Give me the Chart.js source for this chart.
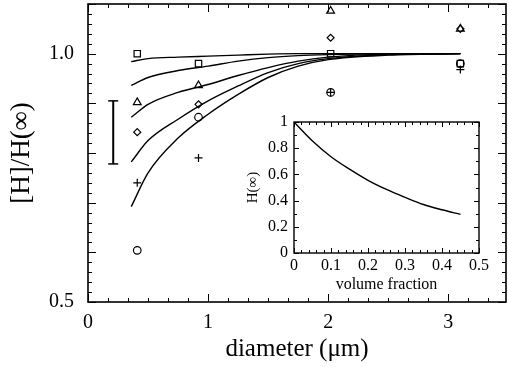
<!DOCTYPE html>
<html>
<head>
<meta charset="utf-8">
<script src="https://cdn.jsdelivr.net/npm/chart.js@4.4.1/dist/chart.umd.min.js"></script>
<style>
  html, body { margin: 0; padding: 0; background: #fff; }
  #wrap { position: relative; width: 508px; height: 367px; }
  #main { position: absolute; left: 0; top: 0; }
  #inset { position: absolute; left: 236px; top: 110px; }
</style>
</head>
<body>
<div id="wrap">
  <canvas id="main" width="508" height="367"></canvas>
  <canvas id="inset" width="256" height="185"></canvas>
</div>
<script>
// model curves, [H]/H(inf) vs diameter
const curveX = [0.36, 0.5, 0.75, 1.0, 1.25, 1.5, 1.75, 2.0, 2.5, 3.1];
const curve1 = [0.984, 0.990, 0.993, 0.995, 0.997, 0.999, 1.0, 1.0, 1.0, 1.0];
const curve2 = [0.936, 0.952, 0.966, 0.975, 0.985, 0.992, 0.996, 0.998, 1.0, 1.0];
const curve3 = [0.872, 0.898, 0.922, 0.938, 0.956, 0.972, 0.985, 0.993, 0.999, 1.0];
const curve4 = [0.782, 0.825, 0.868, 0.905, 0.935, 0.962, 0.980, 0.990, 0.998, 1.0];
const curve5 = [0.692, 0.760, 0.830, 0.878, 0.918, 0.952, 0.975, 0.988, 0.997, 1.0];

// measured points
const markerX = [0.41, 0.92, 2.02, 3.1];
const squareY = [1.0, 0.98, 1.0, 0.98];
const triangleY = [0.902, 0.936, 1.086, 1.05];
const diamondY = [0.842, 0.898, 1.032, 1.05];
const circleY = [0.604, 0.872, 0.922, 0.98];
const plusY = [0.74, 0.79, 0.922, 0.968];

// error bar
const errX = [0.21, 0.21];
const errY = [0.778, 0.905];

const xLabels = [0, 1, 2, 3];
const yLabels = [0.5, 1.0];

// inset: H(inf) vs volume fraction
const fracX = [0, 0.05, 0.1, 0.15, 0.2, 0.25, 0.3, 0.35, 0.4, 0.45];
const hInf = [1.0, 0.855, 0.735, 0.64, 0.555, 0.485, 0.425, 0.37, 0.33, 0.295];
const insetXLabels = [0, 0.1, 0.2, 0.3, 0.4, 0.5];
const insetYLabels = [0, 0.2, 0.4, 0.6, 0.8, 1];

const serif = '"Liberation Serif", "DejaVu Serif", serif';
Chart.defaults.font.family = serif;
Chart.defaults.color = '#000';

function pts(xs, ys) {
  return xs.map((x, i) => ({x: x, y: ys[i]}));
}

function tickList(min, max, step, every) {
  const out = [];
  const n = Math.floor((max - min) / step + 1e-6);
  for (let i = 0; i <= n; i++) {
    out.push({v: min + i * step, major: i % every === 0});
  }
  return out;
}

// inward ticks on all four sides plus the frame
const frameTicks = {
  id: 'frameTicks',
  afterDatasetsDraw(chart, args, opts) {
    const {ctx, chartArea: a, scales} = chart;
    const x = scales.x, y = scales.y;
    ctx.save();
    ctx.strokeStyle = '#000';
    ctx.lineWidth = 1;
    ctx.beginPath();
    opts.xTicks.forEach(t => {
      const p = Math.round(x.getPixelForValue(t.v)) + 0.5;
      const l = t.major ? opts.major : opts.minor;
      ctx.moveTo(p, a.bottom); ctx.lineTo(p, a.bottom - l);
      ctx.moveTo(p, a.top); ctx.lineTo(p, a.top + l);
    });
    opts.yTicks.forEach(t => {
      const p = Math.round(y.getPixelForValue(t.v)) + 0.5;
      const l = t.major ? opts.major : opts.minor;
      ctx.moveTo(a.left, p); ctx.lineTo(a.left + l, p);
      ctx.moveTo(a.right, p); ctx.lineTo(a.right - l, p);
    });
    ctx.stroke();
    ctx.lineWidth = opts.frame;
    ctx.strokeRect(a.left, a.top, a.right - a.left, a.bottom - a.top);
    ctx.restore();
  }
};

function noPad(s) {
  s.paddingTop = 0; s.paddingBottom = 0;
  s.paddingLeft = 0; s.paddingRight = 0;
}

function curveSet(ys) {
  return {
    data: pts(curveX, ys),
    showLine: true,
    borderColor: '#000',
    borderWidth: 1.4,
    pointRadius: 0,
    cubicInterpolationMode: 'monotone'
  };
}

function markerSet(ys, style, r) {
  return {
    data: pts(markerX, ys),
    showLine: false,
    pointStyle: style,
    pointRadius: r,
    pointBorderWidth: 1.2,
    pointBorderColor: '#000',
    pointBackgroundColor: 'rgba(255,255,255,0)'
  };
}

new Chart(document.getElementById('main'), {
  type: 'scatter',
  data: {
    datasets: [
      curveSet(curve1), curveSet(curve2), curveSet(curve3), curveSet(curve4), curveSet(curve5),
      markerSet(squareY, 'rect', 4.5),
      markerSet(triangleY, 'triangle', 4.5),
      markerSet(diamondY, 'rectRot', 3.5),
      markerSet(circleY, 'circle', 3.8),
      markerSet(plusY, 'cross', 4),
      {
        data: pts(errX, errY),
        showLine: true,
        borderColor: '#000',
        borderWidth: 2,
        pointStyle: 'line',
        pointRadius: 5,
        pointBorderWidth: 1.5,
        pointBorderColor: '#000'
      }
    ]
  },
  options: {
    responsive: false,
    animation: false,
    devicePixelRatio: 1,
    layout: {autoPadding: false, padding: {top: 4, right: 2, left: 0, bottom: 0}},
    plugins: {
      legend: {display: false},
      tooltip: {enabled: false},
      frameTicks: {
        xTicks: tickList(0, 3.48, 1 / 6, 6),
        yTicks: tickList(0.5, 1.1, 0.02, 5),
        major: 8, minor: 4, frame: 1.6
      }
    },
    scales: {
      x: {
        type: 'linear', min: 0, max: 3.48,
        grid: {display: false, drawTicks: false},
        border: {display: false},
        afterBuildTicks: s => { s.ticks = xLabels.map(v => ({value: v})); },
        afterFit: s => { s.height = 65; noPad(s); },
        ticks: {font: {size: 20}, padding: 9, autoSkip: false, maxRotation: 0, callback: v => String(v)},
        title: {display: true, text: 'diameter (μm)', font: {size: 25}, padding: {top: 3, bottom: 3}}
      },
      y: {
        type: 'linear', min: 0.5, max: 1.1,
        grid: {display: false, drawTicks: false},
        border: {display: false},
        afterBuildTicks: s => { s.ticks = yLabels.map(v => ({value: v})); },
        afterFit: s => { s.width = 88; noPad(s); },
        ticks: {font: {size: 20}, padding: 14, autoSkip: false, callback: v => v.toFixed(1)},
        title: {display: true, text: '[H]/H(∞)', font: {size: 27}, padding: {top: 6, bottom: 6}}
      }
    }
  },
  plugins: [frameTicks]
});

new Chart(document.getElementById('inset'), {
  type: 'scatter',
  data: {
    datasets: [{
      data: pts(fracX, hInf),
      showLine: true,
      borderColor: '#000',
      borderWidth: 1.4,
      pointRadius: 0,
      cubicInterpolationMode: 'monotone'
    }]
  },
  options: {
    responsive: false,
    animation: false,
    devicePixelRatio: 1,
    layout: {autoPadding: false, padding: {top: 12, right: 13, left: 0, bottom: 0}},
    plugins: {
      legend: {display: false},
      tooltip: {enabled: false},
      frameTicks: {
        xTicks: tickList(0, 0.5, 0.02, 5),
        yTicks: tickList(0, 1, 0.1, 2),
        major: 5, minor: 3, frame: 1.4
      }
    },
    scales: {
      x: {
        type: 'linear', min: 0, max: 0.5,
        grid: {display: false, drawTicks: false},
        border: {display: false},
        afterBuildTicks: s => { s.ticks = insetXLabels.map(v => ({value: v})); },
        afterFit: s => { s.height = 42; noPad(s); },
        ticks: {font: {size: 16}, padding: 3, autoSkip: false, maxRotation: 0, callback: v => String(v)},
        title: {display: true, text: 'volume fraction', font: {size: 16}, padding: {top: 1, bottom: 1}}
      },
      y: {
        type: 'linear', min: 0, max: 1,
        grid: {display: false, drawTicks: false},
        border: {display: false},
        afterBuildTicks: s => { s.ticks = insetYLabels.map(v => ({value: v})); },
        afterFit: s => { s.width = 58; noPad(s); },
        ticks: {font: {size: 16}, padding: 6, autoSkip: false, callback: v => String(v)},
        title: {display: true, text: 'H(∞)', font: {size: 15}, padding: {top: 8, bottom: 8}}
      }
    }
  },
  plugins: [frameTicks]
});
</script>
</body>
</html>
